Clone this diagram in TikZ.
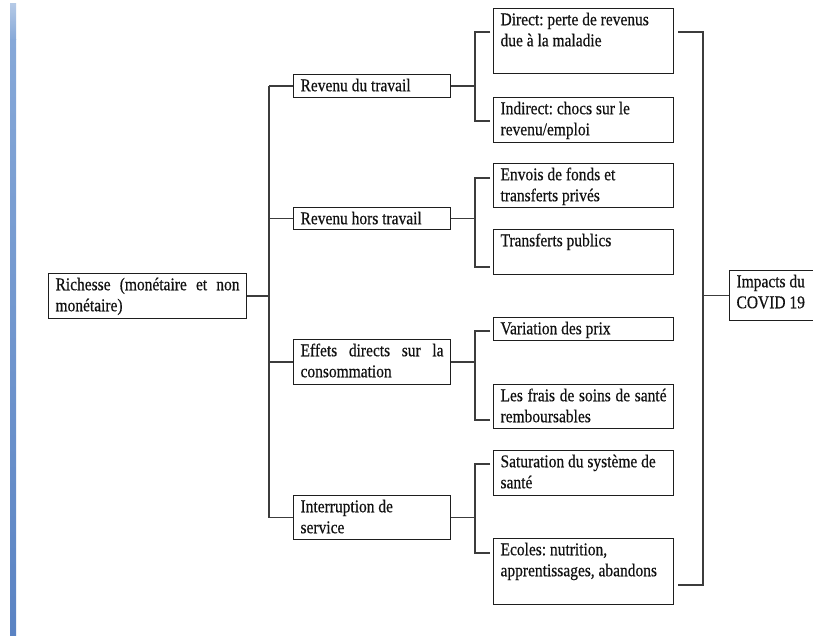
\documentclass[tikz,border=0pt]{standalone}
\usepackage{fontspec}
\setmainfont{Liberation Serif}[FakeStretch=0.86, FakeBold=0.4]
\usetikzlibrary{calc}

\definecolor{boxc}{HTML}{1E1E1E}
\definecolor{linec}{HTML}{3C3C3C}
\definecolor{textc}{HTML}{111111}
\definecolor{bartop}{HTML}{B4C9E6}
\definecolor{barmid}{HTML}{86A8D8}
\definecolor{barbot}{HTML}{5A83C3}

% text block of fixed size, set from the top left corner
\newcommand{\cellbox}[3]{\vbox to #2{\hsize=#1\relax
  \parindent=0pt\leftskip=7pt\rightskip=7pt\parfillskip=0pt plus 1fil
  \tolerance=10000\hbadness=10000\vbadness=10000\hyphenpenalty=10000
  \frenchspacing
  \vskip2pt\noindent\strut#3\strut\par\vss}}

\tikzset{
  box/.style={draw=boxc, line width=1.1pt, inner sep=0pt, anchor=north west,
    font=\fontsize{18}{21}\selectfont, text=textc},
  conn/.style={draw=linec, line width=1.3pt},
}

\begin{document}
\begin{tikzpicture}[x=1pt, y=-1pt]
\useasboundingbox (0,0) rectangle (813,636);
\clip (0,0) rectangle (813,636);
\fill[white] (0,0) rectangle (813,636);

% coloured rule along the left margin
\shade[top color=bartop, bottom color=barmid] (10,4) rectangle (16,40);
\shade[top color=barmid, bottom color=barbot] (10,40) rectangle (16,636);

% root
\node[box] (rich) at (48,273) {\cellbox{198pt}{45pt}{Richesse (monétaire et non\linebreak monétaire)}};

% second level
\node[box] (rt)   at (293,74)  {\cellbox{157pt}{23pt}{Revenu du travail}};
\node[box] (rht)  at (293,207) {\cellbox{157pt}{22pt}{Revenu hors travail}};
\node[box] (eff)  at (293,339) {\cellbox{157pt}{45pt}{Effets directs sur la\linebreak consommation}};
\node[box] (intr) at (293,495) {\cellbox{157pt}{44pt}{Interruption de\newline service}};

% third level
\node[box] (d1) at (493,8)   {\cellbox{180pt}{65pt}{Direct: perte de revenus\newline due à la maladie}};
\node[box] (d2) at (493,97)  {\cellbox{180pt}{45pt}{Indirect: chocs sur le\newline revenu/emploi}};
\node[box] (d3) at (493,163) {\cellbox{180pt}{44pt}{Envois de fonds et\newline transferts privés}};
\node[box] (d4) at (493,229) {\cellbox{180pt}{45pt}{Transferts publics}};
\node[box] (d5) at (493,317) {\cellbox{180pt}{23pt}{Variation des prix}};
\node[box] (d6) at (493,384) {\cellbox{180pt}{44pt}{Les frais de soins de santé\linebreak remboursables}};
\node[box] (d7) at (493,450) {\cellbox{180pt}{45pt}{Saturation du système de\newline santé}};
\node[box] (d8) at (493,538) {\cellbox{180pt}{66pt}{Ecoles: nutrition,\newline apprentissages, abandons}};

% outcome
\node[box] (imp) at (729,270) {\cellbox{110pt}{50pt}{Impacts du\newline COVID 19}};

% trunk from the root to the second level
\coordinate (trunk) at (269,0);
\draw[conn] (rich.east) -- (rich.east -| trunk);
\draw[conn] (trunk |- rt.west) -- (trunk |- intr.west);
\foreach \n in {rt,rht,eff,intr}
  \draw[conn] (trunk |- \n.west) -- (\n.west);

% brackets from the second to the third level
\foreach \p/\a/\da/\b/\db in {rt/d1/24/d2/24, rht/d3/15/d4/38, eff/d5/14/d6/36, intr/d7/14/d8/15} {
  \path (\p.east) ++(24,0) coordinate (j);
  \draw[conn] (\p.east) -- (j);
  \draw[conn] ($(\a.north west)+(-3,\da)$) -| (j) |- ($(\b.north west)+(-3,\db)$);
}

% closing bracket towards the outcome
\draw[conn] ($(d1.north east)+(4,24)$) -- ++(25,0) coordinate (rtop)
  |- ($(d8.north east)+(4,47)$);
\draw[conn] (rtop |- imp.west) -- (imp.west);
\end{tikzpicture}
\end{document}
